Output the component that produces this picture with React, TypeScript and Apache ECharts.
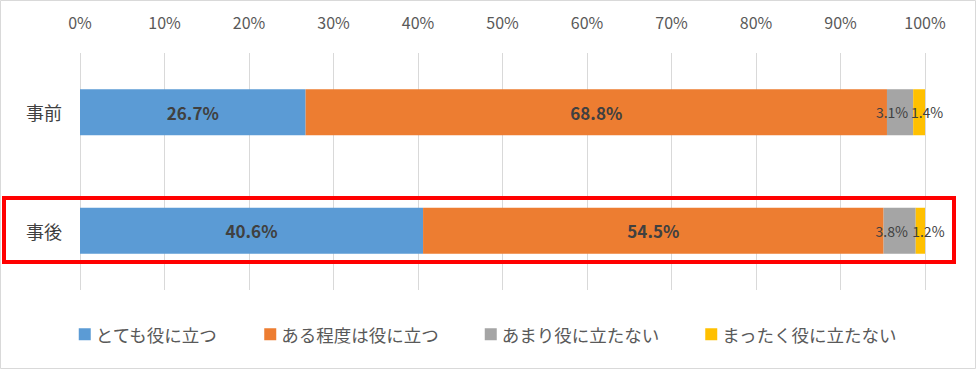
import React, { useEffect, useRef } from "react";
import * as echarts from "echarts";

const categories = ["事前", "事後"];
const seriesNames = ["とても役に立つ", "ある程度は役に立つ", "あまり役に立たない", "まったく役に立たない"];
const colors = ["#5B9BD5", "#ED7D31", "#A5A5A5", "#FFC000"];
const veryUseful = [26.7, 40.6];
const somewhatUseful = [68.8, 54.5];
const notVeryUseful = [3.1, 3.8];
const notAtAll = [1.4, 1.2];
const tickValues = [0, 10, 20, 30, 40, 50, 60, 70, 80, 90, 100];

const FONT = "'Noto Sans CJK JP', 'Noto Sans', sans-serif";

export default function App() {
  const ref = useRef<HTMLDivElement>(null);
  useEffect(() => {
    document.body.style.margin = "0";
    const chart = echarts.init(ref.current!, null, { renderer: "svg" });
    const data = [veryUseful, somewhatUseful, notVeryUseful, notAtAll];
    chart.setOption({
      animation: false,
      backgroundColor: "#ffffff",
      textStyle: { fontFamily: FONT },
      grid: { left: 80, right: 51, top: 53, bottom: 79, containLabel: false },
      xAxis: {
        type: "value",
        position: "top",
        min: tickValues[0],
        max: tickValues[tickValues.length - 1],
        interval: 10,
        axisLine: { show: false },
        axisTick: { show: false },
        axisLabel: {
          formatter: "{value}%",
          color: "#595959",
          fontSize: 16,
          fontFamily: FONT,
          margin: 23,
        },
        splitLine: { show: true, lineStyle: { color: "#D9D9D9", width: 1 } },
      },
      yAxis: {
        type: "category",
        inverse: true,
        data: categories,
        axisLine: { show: false },
        axisTick: { show: false },
        axisLabel: { color: "#404040", fontSize: 18, fontFamily: FONT, margin: 18 },
      },
      legend: {
        bottom: 21,
        left: "center",
        itemWidth: 12,
        itemHeight: 12,
        itemGap: 46,
        icon: "rect",
        textStyle: { color: "#595959", fontSize: 17.5, fontFamily: FONT },
        data: seriesNames,
      },
      series: seriesNames.map((name, i) => ({
        name,
        type: "bar",
        stack: "total",
        barWidth: 46,
        itemStyle: { color: colors[i] },
        label: {
          show: true,
          position: "inside",
          formatter: (p: any) => p.value.toFixed(1) + "%",
          color: "#404040",
          fontSize: i < 2 ? 17 : 14,
          fontWeight: i < 2 ? "bold" : "normal",
          fontFamily: FONT,
          offset: i === 2 ? [-8, 0] : i === 3 ? [8, 0] : [0, 0],
        },
        data: data[i],
      })),
      graphic: [
        {
          type: "rect",
          shape: { x: 0.5, y: 0.5, width: 975, height: 368 },
          style: { fill: "none", stroke: "#D9D9D9", lineWidth: 1 },
          silent: true,
        },
        {
          type: "rect",
          shape: { x: 4, y: 198, width: 950, height: 64 },
          style: { fill: "none", stroke: "#FF0000", lineWidth: 4 },
          silent: true,
          z: 100,
        },
      ],
    });
    return () => chart.dispose();
  }, []);
  return <div ref={ref} style={{ width: 976, height: 369, position: "absolute", left: 0, top: 0 }} />;
}
